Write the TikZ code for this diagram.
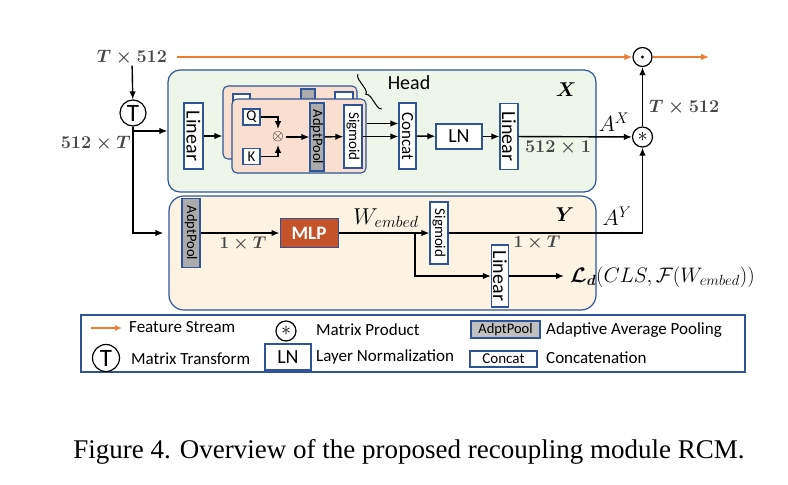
\RequirePackage{fix-cm}
\documentclass[tikz,border=0pt]{standalone}
\usepackage{amsmath,bm}
\usepackage{fontspec}
\setmainfont{Liberation Serif}
\setsansfont{Carlito}
\usetikzlibrary{arrows.meta,decorations.pathreplacing,calc}
\definecolor{bordblue}{HTML}{2F5597}
\definecolor{xfill}{HTML}{EEF5E9}
\definecolor{yfill}{HTML}{FDF3E3}
\definecolor{headfill}{HTML}{F8DFD0}
\definecolor{poolgray}{HTML}{ABABAB}
\definecolor{mlpfill}{HTML}{C4532A}
\definecolor{orng}{HTML}{ED7D31}
\definecolor{lblgray}{HTML}{474747}
\newcommand\myfs[1]{\fontsize{#1}{#1}\selectfont}
\begin{document}
\begin{tikzpicture}[x=1pt,y=-1pt,
  blk/.style={draw=bordblue,line width=1.1pt,fill=white,inner sep=0pt,font=\sffamily},
  vblk/.style={blk,rotate=-90},
  arr/.style={-{Latex[length=8pt,width=6.5pt]},line width=1.4pt},
  oarr/.style={arr,draw=orng},
  grylbl/.style={text=lblgray,inner sep=0pt},
  mlbl/.style={inner sep=0pt},
  cont/.style={draw=bordblue,line width=1.2pt,rounded corners=12pt,inner sep=0pt},
  circ/.style={circle,draw,line width=1.2pt,inner sep=0pt},
  legtxt/.style={anchor=west,inner sep=0pt,font=\sffamily\myfs{17}},
]
\useasboundingbox (0,0) rectangle (788,485);

% containers
\node[cont,fill=xfill,minimum width=428pt,minimum height=122pt] (X) at (382,131) {};
\node[cont,fill=yfill,minimum width=427pt,minimum height=114pt,rounded corners=15pt] (Y) at (382.5,253) {};

% top input
\node[grylbl,font=\myfs{18}\boldmath] (tdim) at (132,58) {$T\times 512$};
\node[circ,minimum size=26pt,font=\sffamily\myfs{25}] (tcirc) at (133,113) {T};
\node[grylbl,font=\myfs{18}\boldmath,anchor=east] (dimb) at (131,144) {$512\times T$};
\draw[arr] (tdim) -- (tcirc);

% output circles
\node[circ,minimum size=19pt,path picture={\fill (path picture bounding box.center) circle (1.7pt);}] (odot) at (642.5,57) {};
\node[circ,minimum size=20pt,font=\myfs{20}] (star) at (642.5,137) {$\ast$};
\coordinate (outend) at (709,57);
\draw[oarr] ([xshift=10pt]tdim.east |- odot) -- (odot);
\draw[oarr] (odot) -- (outend);
\draw[arr] (star) -- (odot);
\node[grylbl,font=\myfs{18}\boldmath,anchor=west] (dimr) at (649,108) {$T\times 512$};

% X branch
\node[vblk,minimum width=66pt,minimum height=19pt,font=\sffamily\myfs{20}] (lin1) at (193.5,136) {Linear};
\draw[arr] (tcirc.south) -- (tcirc.south |- X.west) -- (X.west);
\draw[arr,shorten >=5pt] (tcirc.south |- X.west) |- (Y.west |- 0,233);

% head blocks
\node[draw=bordblue,line width=1.1pt,fill=headfill,rounded corners=5pt,minimum width=134pt,minimum height=73pt] (hback) at (290,122.5) {};
\node[blk,minimum width=17pt,minimum height=16pt] (bq) at (241.5,102) {};
\node[vblk,fill=poolgray,minimum width=68pt,minimum height=14pt] (bpool) at (308,123) {};
\node[vblk,minimum width=63pt,minimum height=18pt] (bsig) at (344,123.5) {};
\node[draw=bordblue,line width=1.1pt,fill=headfill,rounded corners=5pt,minimum width=134pt,minimum height=74pt] (hfront) at (299,136) {};
\node[blk,minimum width=17pt,minimum height=16pt,font=\sffamily\myfs{15}] (q) at (251.5,117) {Q};
\node[blk,minimum width=17pt,minimum height=16pt,font=\sffamily\myfs{15}] (k) at (251.5,156.5) {K};
\node[circle,inner sep=0pt,font=\myfs{15}] (otimes) at (278,137) {$\otimes$};
\node[vblk,fill=poolgray,minimum width=68pt,minimum height=14pt,font=\sffamily\myfs{14.5}] (pool) at (317,137) {AdptPool};
\node[vblk,minimum width=63pt,minimum height=18pt,font=\sffamily\myfs{15}] (sig) at (353,136.5) {Sigmoid};
\draw[arr] (lin1) -- (lin1 -| hback.west);
\draw[arr] (q.east) -| (otimes.north);
\draw[arr] (k.east) -| (otimes.south);
\draw[arr] (otimes) -- (pool);
\draw[arr] (pool) -- (sig);
\draw[line width=1pt,decorate,decoration={brace,amplitude=5pt,mirror}] (358,74) -- (382,109);
\node[inner sep=0pt,font=\sffamily\myfs{20}] (head) at (409,83) {Head};

% X rest
\node[vblk,minimum width=66pt,minimum height=17pt,font=\sffamily\myfs{17}] (concat) at (407.5,136) {Concat};
\node[blk,minimum width=46pt,minimum height=25pt,font=\sffamily\myfs{20}] (ln) at (459,136.5) {LN};
\node[vblk,minimum width=66pt,minimum height=18pt,font=\sffamily\myfs{20}] (lin2) at (509,136.5) {Linear};
\draw[arr] (hfront.east |- bsig) -- (concat.south |- bsig);
\draw[arr] (sig) -- (sig -| concat.south);
\draw[arr] (concat) -- (ln);
\draw[arr] (ln) -- (lin2);
\draw[arr] (lin2) -- (star);
\node[mlbl,font=\myfs{20}\boldmath] (xlab) at (566,90) {$X$};
\node[mlbl,font=\myfs{22}] (ax) at (614,122) {$A^{X}$};
\node[grylbl,font=\myfs{18}\boldmath] (dimx) at (558,148) {$512\times 1$};

% Y branch
\node[vblk,fill=poolgray,minimum width=69pt,minimum height=18pt,font=\sffamily\myfs{14.5}] (ypool) at (191,233) {AdptPool};
\node[draw=bordblue,line width=1pt,fill=mlpfill,inner sep=0pt,minimum width=58pt,minimum height=29pt,text=white,font=\sffamily\bfseries\myfs{19}] (mlp) at (309,233) {MLP};
\node[vblk,minimum width=62pt,minimum height=18pt,font=\sffamily\myfs{15}] (ysig) at (439,233) {Sigmoid};
\node[vblk,minimum width=62pt,minimum height=17pt,font=\sffamily\myfs{20}] (lin3) at (500,276) {Linear};
\coordinate (br) at (415,233);
\node[anchor=west,inner xsep=6pt,inner ysep=0pt,font=\myfs{21}] (ld) at (564,277) {$\bm{\mathcal{L}_{d}}(CLS,\mathcal{F}(W_{embed}))$};
\draw[arr] (ypool) -- (mlp);
\draw[arr] (mlp) -- (ysig);
\draw[arr] (br) |- (lin3);
\draw[arr] (lin3) -- (ld.west |- lin3);
\draw[arr] (ysig) -| (star);
\node[grylbl,font=\myfs{17}\boldmath] (dim1) at (243,244) {$1\times T$};
\node[grylbl,font=\myfs{17}\boldmath] (dim2) at (537,243) {$1\times T$};
\node[mlbl,font=\myfs{23}] (wemb) at (386,218) {$W_{embed}$};
\node[mlbl,font=\myfs{22}] (ay) at (617,216) {$A^{Y}$};
\node[mlbl,font=\myfs{20}\boldmath] (ylab) at (565,215) {$Y$};

% legend
\node[draw=bordblue,line width=1.2pt,minimum width=664pt,minimum height=57pt,inner sep=0pt] (leg) at (413,343.5) {};
\coordinate (la1) at (91,328);
\coordinate (la2) at (122,328);
\draw[oarr,-{Latex[length=7pt,width=6pt]}] (la1) -- (la2);
\node[legtxt] (lt1) at (129,327) {Feature Stream};
\node[circ,minimum size=20pt,font=\myfs{20}] (lstar) at (286,331) {$\ast$};
\node[legtxt] (lt2) at (316,330) {Matrix Product};
\node[blk,fill=poolgray!75,minimum width=69pt,minimum height=17pt,font=\sffamily\myfs{14.5}] (lpool) at (505.5,329.5) {AdptPool};
\node[legtxt] (lt3) at (546,330) {Adaptive Average Pooling};
\node[circ,minimum size=27pt,font=\sffamily\myfs{25}] (ltc) at (106,358) {T};
\node[legtxt] (lt4) at (131,359) {Matrix Transform};
\node[blk,minimum width=46pt,minimum height=26pt,font=\sffamily\myfs{20}] (lln) at (288,357) {LN};
\node[legtxt] (lt5) at (316,357) {Layer Normalization};
\node[blk,minimum width=67pt,minimum height=16pt,font=\sffamily\myfs{15}] (lcat) at (503.5,359) {Concat};
\node[legtxt] (lt6) at (546,358) {Concatenation};

% caption
\node[inner sep=0pt,font=\rmfamily\myfs{27}] (cap) at (409,452) {Figure 4. Overview of the proposed recoupling module RCM.};
\end{tikzpicture}
\end{document}
